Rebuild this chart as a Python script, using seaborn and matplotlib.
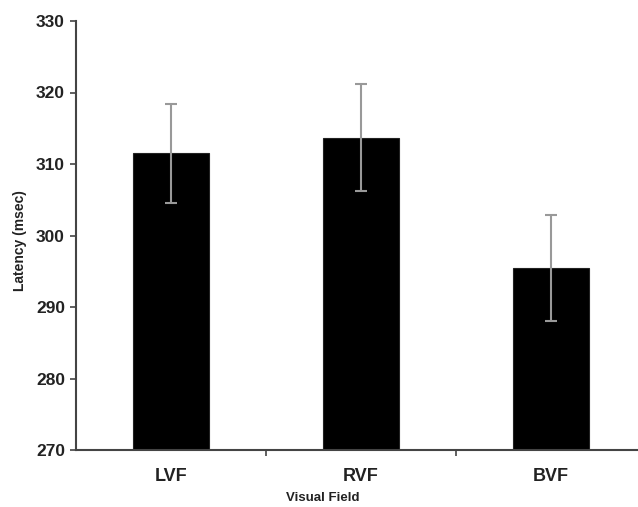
import matplotlib
matplotlib.use("Agg")
import matplotlib.pyplot as plt
import pandas as pd
import seaborn as sns

fields = ['LVF', 'RVF', 'BVF']
latency = [311.5, 313.7, 295.5]
err = [6.9, 7.5, 7.4]

df = pd.DataFrame({'Visual Field': fields, 'Latency (msec)': latency})

sns.set_style("white")
plt.rcParams['font.family'] = ['Liberation Sans', 'DejaVu Sans']

fig = plt.figure(figsize=(6.38, 5.07), dpi=100)
ax = fig.add_axes([76 / 638, 57 / 507, 570 / 638, 429 / 507])

sns.barplot(data=df, x='Visual Field', y='Latency (msec)', color='black',
            width=0.405, saturation=1, errorbar=None, ax=ax)
for p in ax.patches:
    p.set_edgecolor('#222222')
    p.set_linewidth(0.8)

ax.errorbar(range(len(fields)), latency, yerr=err, fmt='none',
            ecolor='#999999', elinewidth=1.5, capsize=4, capthick=1.5, zorder=3)

ax.set_ylim(270, 330)
ax.set_xlim(-0.5, 2.5)
ax.set_yticks(range(270, 331, 10))
ax.set_xticks([0.5, 1.5], minor=True)

for side in ['top', 'right']:
    ax.spines[side].set_visible(False)
for side in ['left', 'bottom']:
    ax.spines[side].set_color('#444444')
    ax.spines[side].set_linewidth(1.5)

ax.tick_params(axis='y', which='major', direction='out', length=4, width=1.2,
               color='#444444', left=True, labelsize=12.5, pad=4)
ax.tick_params(axis='x', which='major', length=0, labelsize=13, pad=13)
ax.tick_params(axis='x', which='minor', direction='out', length=4, width=1.2,
               color='#444444', bottom=True)
for lbl in ax.get_xticklabels() + ax.get_yticklabels():
    lbl.set_fontweight('bold')
    lbl.set_color('#222222')

ax.set_xlabel('Visual Field', fontsize=9.5, fontweight='bold', color='#222222')
ax.set_ylabel('Latency (msec)', fontsize=10, fontweight='bold', color='#222222')
ax.xaxis.set_label_coords((323 - 76) / 570, -(492 - 450) / 429)
ax.yaxis.set_label_coords(-(76 - 27) / 570, (507 - 241 - 57) / 429)

fig.savefig('out.png', dpi=100)
